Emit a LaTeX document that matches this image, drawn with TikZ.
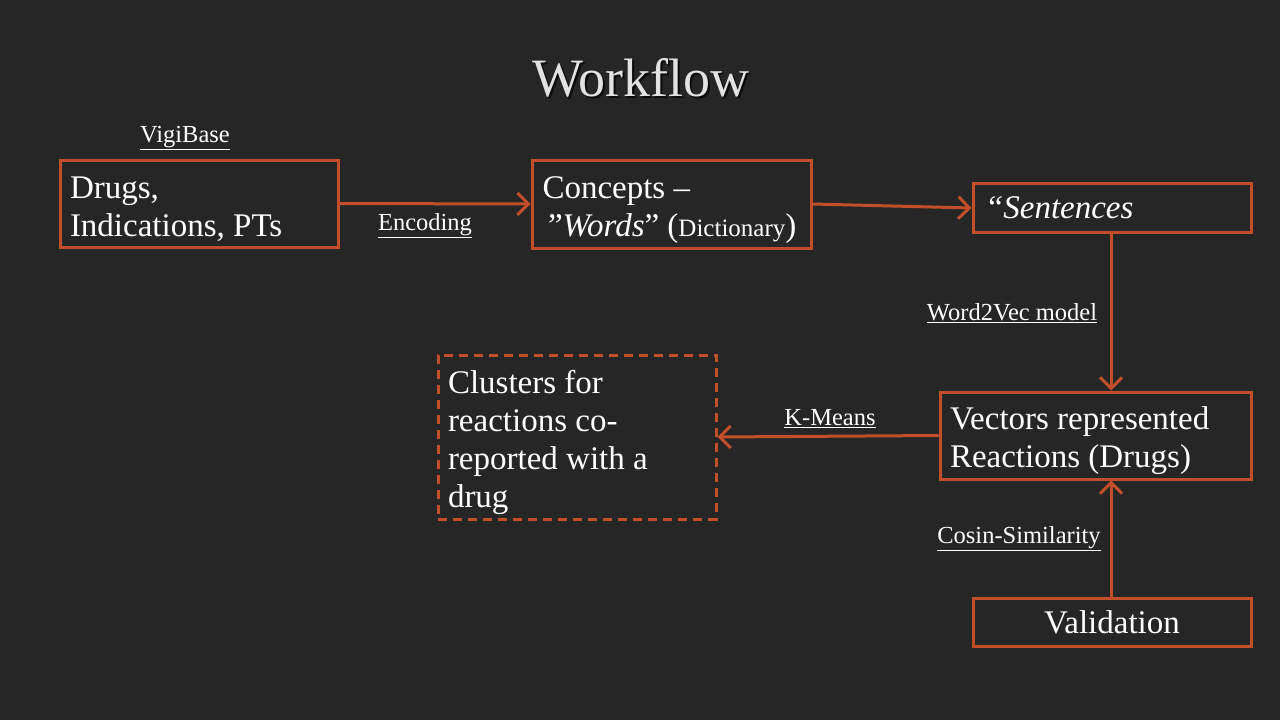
\documentclass[tikz,border=0pt]{standalone}
\usepackage{fontspec}
\setmainfont{Liberation Serif}
\usetikzlibrary{arrows.meta}
\definecolor{bg}{HTML}{262626}
\definecolor{acc}{HTML}{C24F29}
\definecolor{ttl}{HTML}{E2E2E2}
\tikzset{
  box/.style={draw=acc, line width=3pt, text=white, align=flush left, inner xsep=10pt, inner ysep=0pt,
     font=\fontsize{33}{38}\selectfont},
  lower/.style={execute at begin node={\rule{0pt}{34pt}}},
  lab/.style={text=white, font=\fontsize{24.5}{28}\selectfont, inner sep=0pt},
  conn/.style={draw=acc, line width=3pt, -{Straight Barb[length=11pt,width=22pt,line width=3pt]}},
}
\begin{document}
\begin{tikzpicture}[x=1pt,y=-1pt]
\fill[bg] (0,0) rectangle (1280,720);
\useasboundingbox (0,0) rectangle (1280,720);
% title
\node[text=black, opacity=0.7, font=\fontsize{54}{60}\selectfont] at (643,80) {Workflow};
\node[text=ttl, font=\fontsize{54}{60}\selectfont] (title) at (641,78) {Workflow};
% boxes
\node[box, lower, minimum width=278pt, minimum height=87pt, text width=258pt] (drugs) at (199,203.5)
  {Drugs,\\Indications, PTs};
\node[box, lower, minimum width=279pt, minimum height=88pt, text width=258pt] (concepts) at (671.5,204)
  {Concepts --\\\,”\textit{Words}” ({\fontsize{25}{28}\selectfont Dictionary})};
\node[box, minimum width=278pt, minimum height=49pt, text width=254pt, inner xsep=12pt] (sent) at (1112,208)
  {\textit{“Sentences}};
\node[box, lower, dashed, dash pattern=on 9pt off 6pt, minimum width=278pt, minimum height=164pt, text width=258pt] (clus) at (577,437)
  {Clusters for\\reactions co-\\reported with a\\drug};
\node[box, lower, minimum width=311pt, minimum height=87pt, text width=291pt] (vec) at (1095.5,435.5)
  {Vectors represented\\Reactions (Drugs)};
\node[box, align=center, minimum width=278pt, minimum height=48pt, text width=258pt] (val) at (1112,622)
  {Validation};
% labels
\node[lab] (l1) at (185,138) {\underline{VigiBase}};
\node[lab] (l2) at (425,226) {\underline{Encoding}};
\node[lab] (l3) at (1012,313) {\underline{Word2Vec model}};
\node[lab] (l4) at (830,419) {\underline{K-Means}};
\node[lab] (l5) at (1019,539) {\underline{Cosin-Similarity}};
% connectors
\draw[conn] (drugs.east) -- (concepts.west);
\draw[conn] (concepts.east) -- (sent.west);
\draw[conn] (sent.south -| 1111,0) -- (vec.north -| 1111,0);
\draw[conn] (vec.west) -- (clus.east);
\draw[conn] (val.north -| 1111,0) -- (vec.south -| 1111,0);
\end{tikzpicture}
\end{document}
